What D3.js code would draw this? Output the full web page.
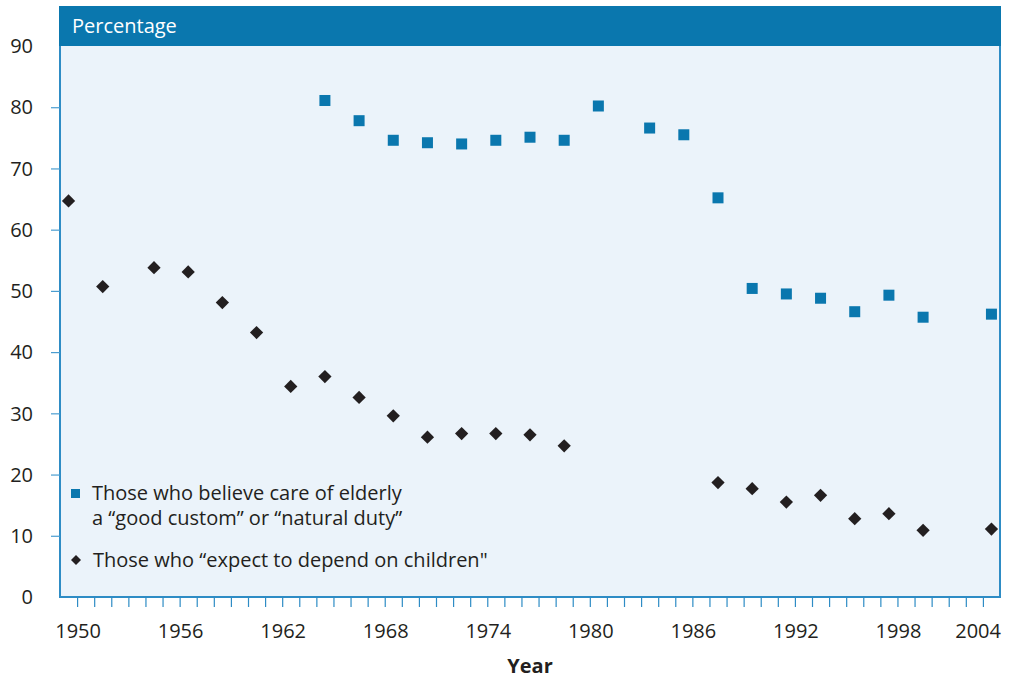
<!DOCTYPE html>
<html>
<head>
<meta charset="utf-8">
<script src="https://cdn.jsdelivr.net/npm/d3@7"></script>
<style>
  html, body { margin: 0; padding: 0; background: #ffffff; }
  svg { display: block; }
  text { font-family: "Open Sans", "Noto Sans", sans-serif; fill: #231f20; }
</style>
</head>
<body>
<svg id="chart" width="1009" height="679"></svg>
<script>
// Survey years and percentages
const dutyYears = [1965, 1967, 1969, 1971, 1973, 1975, 1977, 1979, 1981, 1984, 1986,
                   1988, 1990, 1992, 1994, 1996, 1998, 2000, 2004];
const dutyValues = [81.1, 77.8, 74.6, 74.2, 74.0, 74.6, 75.1, 74.6, 80.2, 76.6, 75.5,
                    65.2, 50.4, 49.5, 48.8, 46.6, 49.3, 45.7, 46.2];

const dependYears = [1950, 1952, 1955, 1957, 1959, 1961, 1963, 1965, 1967, 1969, 1971,
                     1973, 1975, 1977, 1979, 1988, 1990, 1992, 1994, 1996, 1998, 2000, 2004];
const dependValues = [64.7, 50.7, 53.8, 53.1, 48.1, 43.2, 34.4, 36.0, 32.6, 29.6, 26.1,
                      26.7, 26.7, 26.5, 24.7, 18.7, 17.7, 15.5, 16.6, 12.8, 13.6, 10.9, 11.1];

const yTickValues = [0, 10, 20, 30, 40, 50, 60, 70, 80, 90];
const xTickLabels = [1950, 1956, 1962, 1968, 1974, 1980, 1986, 1992, 1998, 2004];

const dutyLabel = ["Those who believe care of elderly", "a \u201cgood custom\u201d or \u201cnatural duty\u201d"];
const dependLabel = "Those who \u201cexpect to depend on children\"";

const blue = "#0a77ae";
const axisBlue = "#2e8cc5";
const dark = "#231f20";

const svg = d3.select("#chart");
const plotLeft = 60, plotRight = 1000, plotTop = 46, plotBottom = 597;

const x = d3.scaleLinear().domain([1949, 2004]).range([plotLeft, plotRight]);
const y = d3.scaleLinear().domain([0, 90]).range([plotBottom, plotTop]);

// markers sit half a year ahead of their survey-year tick
const markerX = yr => x(yr - 0.5);

// plot background and frame
svg.append("rect")
  .attr("x", plotLeft).attr("y", 7).attr("width", plotRight - plotLeft).attr("height", plotBottom - 7)
  .attr("fill", "#ebf3fa").attr("stroke", axisBlue).attr("stroke-width", 2);

// header bar
svg.append("rect")
  .attr("x", plotLeft - 1).attr("y", 6).attr("width", plotRight - plotLeft + 2).attr("height", plotTop - 6)
  .attr("fill", blue);
svg.append("text")
  .attr("x", 72).attr("y", 33)
  .style("font-size", "20px").style("fill", "#ffffff")
  .text("Percentage");

// x-axis tick marks, one per year
const xAxis = d3.axisBottom(x)
  .tickValues(d3.range(1950, 2004))
  .tickSize(10).tickFormat("");
const gx = svg.append("g").attr("transform", `translate(0,${plotBottom})`).call(xAxis);
gx.select(".domain").remove();
gx.selectAll(".tick line").attr("stroke", axisBlue).attr("stroke-width", 1.2);

// x tick labels (the last one kept inside the frame)
svg.append("g").selectAll("text")
  .data(xTickLabels)
  .join("text")
  .attr("x", d => x(d) + 1)
  .attr("y", 638)
  .attr("text-anchor", d => d === 2004 ? "end" : "middle")
  .style("font-size", "20px")
  .text(d => d);

svg.append("text")
  .attr("x", (plotLeft + plotRight) / 2).attr("y", 673)
  .attr("text-anchor", "middle")
  .style("font-size", "20px").style("font-weight", "bold")
  .text("Year");

// y-axis ticks and labels
const yAxis = d3.axisLeft(y)
  .tickValues(yTickValues.filter(v => v > 0 && v < 90))
  .tickSize(9).tickFormat("");
const gy = svg.append("g").attr("transform", `translate(${plotLeft},0)`).call(yAxis);
gy.select(".domain").remove();
gy.selectAll(".tick line").attr("stroke", "#4a9dd0").attr("stroke-width", 1.2);

svg.append("g").selectAll("text")
  .data(yTickValues)
  .join("text")
  .attr("x", 33)
  .attr("y", d => y(d))
  .attr("dy", "0.36em")
  .attr("text-anchor", "end")
  .style("font-size", "20px")
  .text(d => d);

// series: squares
const sq = 11;
svg.append("g").selectAll("rect")
  .data(d3.zip(dutyYears, dutyValues))
  .join("rect")
  .attr("x", d => markerX(d[0]) - sq / 2)
  .attr("y", d => y(d[1]) - sq / 2)
  .attr("width", sq).attr("height", sq)
  .attr("fill", blue);

// series: diamonds
const diamond = d3.symbol().type(d3.symbolSquare).size(88);
svg.append("g").selectAll("path")
  .data(d3.zip(dependYears, dependValues))
  .join("path")
  .attr("d", diamond)
  .attr("transform", d => `translate(${markerX(d[0])},${y(d[1])}) rotate(45)`)
  .attr("fill", dark);

// legend
const legend = svg.append("g");
legend.append("rect")
  .attr("x", 71).attr("y", 489).attr("width", 9).attr("height", 9)
  .attr("fill", blue);
legend.append("text")
  .attr("x", 92).attr("y", 500)
  .style("font-size", "20px")
  .selectAll("tspan")
  .data(dutyLabel)
  .join("tspan")
  .attr("x", 92)
  .attr("dy", (d, i) => i === 0 ? 0 : 25)
  .text(d => d);
legend.append("path")
  .attr("d", d3.symbol().type(d3.symbolSquare).size(50))
  .attr("transform", "translate(76,560) rotate(45)")
  .attr("fill", dark);
legend.append("text")
  .attr("x", 93).attr("y", 567)
  .style("font-size", "20px")
  .text(dependLabel);
</script>
</body>
</html>
